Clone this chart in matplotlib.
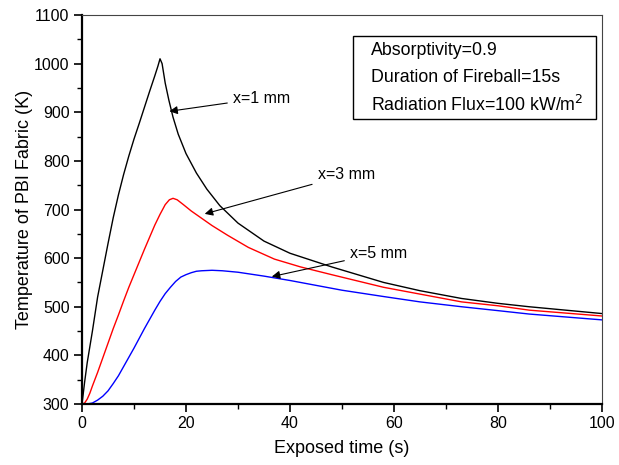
import matplotlib
matplotlib.use("Agg")
import matplotlib.pyplot as plt
from matplotlib.ticker import MultipleLocator
from matplotlib.patches import Rectangle

plt.rcParams['font.family'] = ['Liberation Sans', 'DejaVu Sans']

# x = 1 mm
t_1mm = [0, 0.5, 1, 2, 3, 4, 5, 6, 7, 8, 9, 10, 11, 12, 13, 14, 14.6, 15, 15.4, 16, 16.7,
         17.5, 18.5, 20, 22, 24, 26.5, 30, 35, 40, 48, 58, 65, 73, 80, 86, 93, 100]
temp_1mm = [300, 345, 385, 450, 520, 575, 630, 683, 730, 772, 810, 845, 877, 910, 943, 975, 995,
            1010, 1000, 960, 925, 890, 855, 815, 775, 742, 708, 672, 635, 610, 582, 550, 533,
            517, 507, 500, 493, 486]

# x = 3 mm
t_3mm = [0, 0.5, 1, 1.5, 2, 3, 4, 5, 6, 7, 8, 9, 10, 11, 12, 13, 14, 15, 16, 16.8, 17.5, 18.3,
         19.5, 21, 23, 25, 28, 32, 37, 42, 48, 58, 65, 73, 80, 86, 93, 100]
temp_3mm = [300, 302, 310, 322, 337, 365, 395, 425, 455, 483, 512, 540, 566, 592, 618, 643, 668,
            690, 710, 720, 723, 720, 710, 697, 682, 667, 647, 622, 598, 582, 566, 540, 526, 510,
            502, 493, 487, 481]

# x = 5 mm
t_5mm = [0, 1, 2, 3, 4, 5, 6, 7, 8, 9, 10, 11, 12, 13, 14, 15, 16, 17, 18, 19, 20, 21, 22, 23,
         25, 27, 30, 35, 40, 45, 50, 58, 65, 73, 80, 86, 93, 100]
temp_5mm = [300, 300, 302, 308, 316, 327, 342, 358, 377, 396, 415, 435, 455, 474, 493, 511, 527,
            540, 552, 561, 566, 570, 573, 574, 575, 574, 571, 563, 554, 544, 534, 521, 510, 500,
            492, 485, 479, 473]

series_labels = ["x=1 mm", "x=3 mm", "x=5 mm"]
box_lines = ["Absorptivity=0.9", "Duration of Fireball=15s", "Radiation Flux=100 kW/m$^2$"]

fig = plt.figure(figsize=(6.19, 4.65), dpi=100)
ax = fig.add_axes([0.1325, 0.1312, 0.84, 0.8365])

ax.plot(t_1mm, temp_1mm, color='black', lw=1.0)
ax.plot(t_3mm, temp_3mm, color='red', lw=1.0)
ax.plot(t_5mm, temp_5mm, color='blue', lw=1.0)

ax.set_xlim(0, 100)
ax.set_ylim(300, 1100)
ax.xaxis.set_major_locator(MultipleLocator(20))
ax.xaxis.set_minor_locator(MultipleLocator(10))
ax.yaxis.set_major_locator(MultipleLocator(100))
ax.yaxis.set_minor_locator(MultipleLocator(50))
ax.tick_params(which='major', direction='out', length=6, width=1.2, labelsize=11.5,
               top=False, right=False, pad=3)
ax.tick_params(which='minor', direction='out', length=3.5, width=1.0, top=False, right=False)

for s in ['left', 'bottom']:
    ax.spines[s].set_linewidth(1.6)
for s in ['top', 'right']:
    ax.spines[s].set_linewidth(0.8)
    ax.spines[s].set_color('#444444')

ax.set_xlabel("Exposed time (s)", fontsize=13, labelpad=6)
ax.set_ylabel("Temperature of PBI Fabric (K)", fontsize=13, labelpad=1)

arrow = dict(arrowstyle='-|>', color='black', lw=0.8, mutation_scale=12, shrinkA=2, shrinkB=0)
ax.annotate(series_labels[0], xy=(16.8, 902), xytext=(29.0, 929), fontsize=11.5,
            va='center', ha='left', arrowprops=arrow)
ax.annotate(series_labels[1], xy=(23.6, 691), xytext=(45.3, 771), fontsize=11.5,
            va='center', ha='left', arrowprops=arrow)
ax.annotate(series_labels[2], xy=(36.5, 562), xytext=(51.5, 610), fontsize=11.5,
            va='center', ha='left', arrowprops=arrow)

ax.add_patch(Rectangle((0.521, 0.733), 0.467, 0.213, transform=ax.transAxes,
                       fill=False, edgecolor='black', lw=1.0))
for txt, yy in zip(box_lines, [0.910, 0.840, 0.770]):
    ax.text(0.556, yy, txt, transform=ax.transAxes, fontsize=12.8, va='center', ha='left')

fig.savefig("out.png", dpi=100)
